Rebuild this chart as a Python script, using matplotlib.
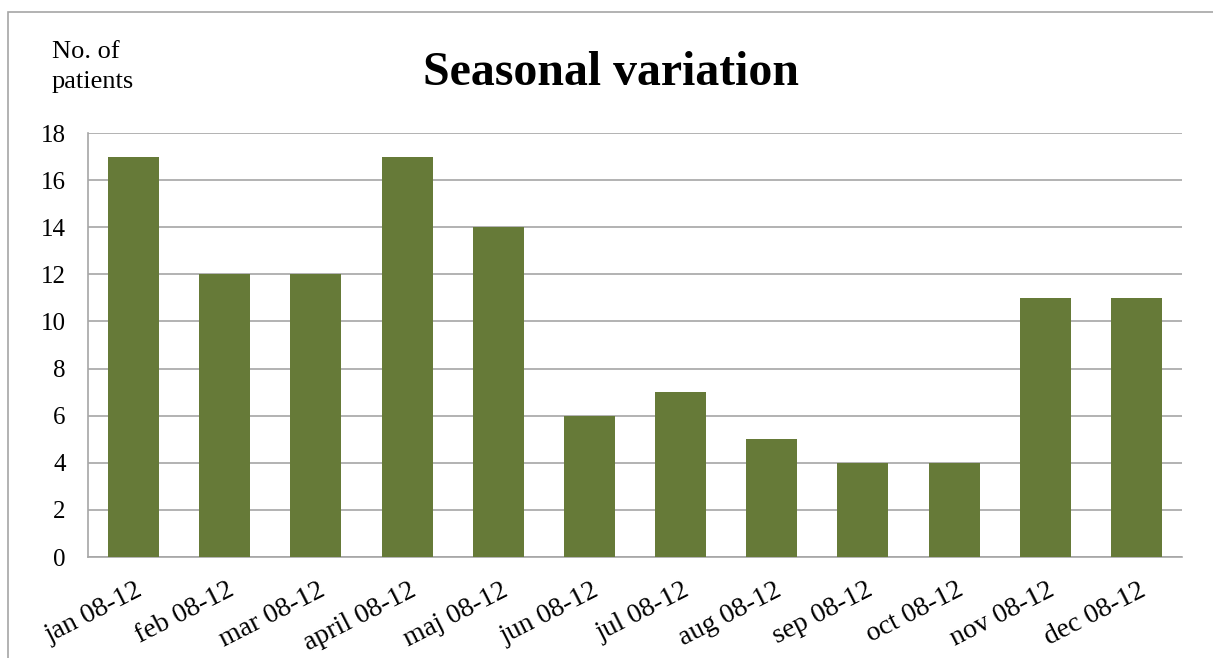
import matplotlib.pyplot as plt
from matplotlib.patches import Rectangle
from matplotlib.transforms import ScaledTranslation

# ==================
# Data
MONTHS = ["jan 08-12", "feb 08-12", "mar 08-12", "april 08-12", "maj 08-12", "jun 08-12",
          "jul 08-12", "aug 08-12", "sep 08-12", "oct 08-12", "nov 08-12", "dec 08-12"]
PATIENTS = [17, 12, 12, 17, 14, 6, 7, 5, 4, 4, 11, 11]
Y_TICKS = [0, 2, 4, 6, 8, 10, 12, 14, 16, 18]
# ==================

W, H = 1213, 658
plt.rcParams['font.family'] = ['Liberation Serif', 'DejaVu Serif']

fig = plt.figure(figsize=(W / 100, H / 100), dpi=100)

# outer chart border (only left and top are visible in the crop)
fig.patches.append(Rectangle((8 / W, -0.1), 1.2, 1 - 12 / H + 0.1, transform=fig.transFigure,
                             fill=False, edgecolor='#a6a6a6', linewidth=1.2))

ax = fig.add_axes([88 / W, 1 - 557 / H, (1182 - 88) / W, (557 - 133) / H])

x = range(len(MONTHS))
ax.bar(x, PATIENTS, width=0.56, color='#667a38', zorder=3)

ax.set_xlim(-0.5, len(MONTHS) - 0.5)
ax.set_ylim(0, 18)
ax.set_yticks(Y_TICKS)
ax.set_yticklabels([str(v) for v in Y_TICKS], fontsize=18)
ax.set_xticks(list(x))
ax.set_xticklabels(MONTHS, fontsize=20, rotation=27, ha='right', va='top',
                   rotation_mode='anchor')
ax.tick_params(length=0)
ax.tick_params(axis='y', pad=16)
ax.tick_params(axis='x', pad=15)
shift = ScaledTranslation(2 / 100, 0, fig.dpi_scale_trans)
for lab in ax.get_xticklabels():
    lab.set_transform(lab.get_transform() + shift)

ax.grid(axis='y', color='#a6a6a6', linewidth=1.2, zorder=0)
for s in ['top', 'right']:
    ax.spines[s].set_visible(False)
for s in ['left', 'bottom']:
    ax.spines[s].set_color('#a6a6a6')
    ax.spines[s].set_linewidth(1.2)

fig.text(611 / W, 1 - 85 / H, "Seasonal variation", fontsize=34.5, fontweight='bold',
         ha='center', va='baseline')
fig.text(52 / W, 1 - 58 / H, "No. of", fontsize=19, ha='left', va='baseline')
fig.text(52 / W, 1 - 88 / H, "patients", fontsize=19, ha='left', va='baseline')

fig.savefig("out.png", dpi=100)
